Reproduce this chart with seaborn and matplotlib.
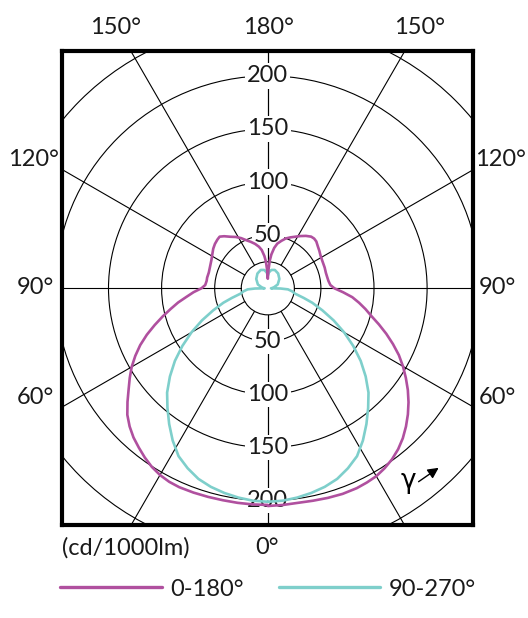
import matplotlib
matplotlib.use("Agg")
import matplotlib.pyplot as plt
from matplotlib.patches import Circle
import numpy as np
import pandas as pd
import seaborn as sns

# ---------------- data (cd/1000lm) ----------------
purple_gamma = [0, 4, 8, 12, 16, 20, 24, 27, 30, 33, 36, 39, 42, 45, 48, 51, 54, 57, 60, 63, 66,
                69, 72, 75, 78, 81, 84, 87, 90, 93, 97, 100, 105, 110, 117, 122, 126, 130, 134,
                137, 140, 144, 148, 152, 156, 160, 164, 168, 171, 174, 176, 178, 180]
purple_left = [204, 204, 204, 204, 204.3, 204.7, 205, 204.5, 203, 200.5, 197, 193, 189, 184, 178,
               170, 162, 155, 148, 140, 131.5, 122, 112, 102.5, 93.5, 85.5, 77, 70, 62.5, 59, 58,
               58, 57.5, 58, 59.5, 61.5, 63.5, 65, 66, 66.5, 64, 60, 57, 53.5, 49.5, 46.5, 43.5,
               40, 36.5, 30.5, 25, 17, 9]
purple_right = [205, 204.5, 204, 204.5, 205.3, 206, 206, 205.3, 204.3, 202, 199, 195, 190, 184,
                177.5, 170.5, 163, 155, 147, 138.5, 129, 119.5, 110, 101, 94, 87, 80, 71, 62.7,
                59, 57.5, 57, 56.6, 57, 57.5, 58.5, 60, 61.5, 63.5, 64, 63.5, 61, 58, 55, 52.5,
                50, 46.5, 43, 38.5, 32, 26, 17, 9]

cyan_gamma = [0, 4, 8, 12, 16, 20, 24, 28, 32, 36, 40, 44, 48, 52, 56, 60, 64, 68, 72, 75, 79,
              83, 87, 89, 90, 93, 100, 111, 129, 145, 159, 169, 176, 180]
cyan_left = [201, 200.5, 199, 197, 194.5, 191, 185.5, 179, 169, 158, 147, 136.5, 124, 111, 97,
             83, 69, 55.5, 44, 35, 26, 23, 19, 12, 3, 4, 6, 10, 14, 17, 18.5, 17.6, 15, 12]
cyan_right = [201, 200.5, 199, 197, 194.5, 191, 185.5, 179, 169, 158, 147, 136.5, 124, 111, 97,
              83, 69, 55.5, 44, 35, 26, 23, 19, 12, 3, 4, 6, 10, 14, 17, 18.5, 17.6, 15, 12]

series_names = ["0-180°", "90-270°"]
ring_values = [25, 50, 100, 150, 200, 250]
value_labels = [50, 100, 150, 200]
spoke_angles = [0, 30, 60, 90, 120, 150, 180]
unit_label = "(cd/1000lm)"

PURPLE = "#B0509F"
CYAN = "#7ECFCB"
TXT = "#1a1a1a"


def closed_loop(gam, left, right, name):
    g = np.radians(np.asarray(gam, dtype=float))
    l = np.asarray(left, dtype=float)
    r = np.asarray(right, dtype=float)
    xl, yl = -l * np.sin(g), -l * np.cos(g)
    xr, yr = (r * np.sin(g))[::-1], (-r * np.cos(g))[::-1]
    x = np.concatenate([xl, xr])
    y = np.concatenate([yl, yr])
    return pd.DataFrame({"x": x, "y": y, "plane": name, "order": np.arange(len(x))})


df_p = closed_loop(purple_gamma, purple_left, purple_right, series_names[0])
df_c = closed_loop(cyan_gamma, cyan_left, cyan_right, series_names[1])

sns.set_theme(style="white")
plt.rcParams["font.family"] = ["Lato", "DejaVu Sans"]
plt.rcParams["font.weight"] = "normal"
plt.rcParams["text.color"] = TXT

W, H = 528, 618
fig = plt.figure(figsize=(W / 100, H / 100), dpi=100)
L, R, T, B = 62, 473, 51, 525
ax = fig.add_axes([L / W, 1 - B / H, (R - L) / W, (B - T) / H])
scale = 1.062
cx, cy = 267.8, 288.3
ax.set_xlim((L - cx) / scale, (R - cx) / scale)
ax.set_ylim(-(B - cy) / scale, (cy - T) / scale)

# grid rings
for rv in ring_values:
    ax.add_patch(Circle((0, 0), rv, fill=False, ec="black", lw=0.8, zorder=1))
# spokes
for a in spoke_angles:
    t = np.radians(a)
    for s in (-1, 1):
        ax.plot([s * 25 * np.sin(t), s * 320 * np.sin(t)],
                [-25 * np.cos(t), -320 * np.cos(t)], color="black", lw=0.8, zorder=1)

# value labels on vertical axis
for v in value_labels:
    for s in (1, -1):
        ax.text(0, s * v, str(v), ha="center", va="center", fontsize=17, color=TXT,
                zorder=2, bbox=dict(fc="white", ec="none", pad=1.5))

# curves
sns.lineplot(data=df_c, x="x", y="y", sort=False, estimator=None, color=CYAN, lw=1.9,
             label=series_names[1], ax=ax, zorder=4)
sns.lineplot(data=df_p, x="x", y="y", sort=False, estimator=None, color=PURPLE, lw=1.9,
             label=series_names[0], ax=ax, zorder=5)

ax.set_xticks([])
ax.set_yticks([])
ax.set_xlabel("")
ax.set_ylabel("")
for sp in ax.spines.values():
    sp.set_visible(True)
    sp.set_color("black")
    sp.set_linewidth(3)

# gamma annotation
ax.text(0.842, 0.092, "γ", transform=ax.transAxes, ha="center", va="center", fontsize=19,
        color="black", family=["DejaVu Sans"])
ax.annotate("", xy=(0.922, 0.124), xytext=(0.862, 0.088), xycoords="axes fraction",
            arrowprops=dict(arrowstyle="-|>", color="black", lw=1.0, mutation_scale=16))


# outer angle labels (pixel positions)
def ftext(x, y, s, ha="center"):
    fig.text(x / W, 1 - y / H, s, ha=ha, va="center", fontsize=17, color=TXT)


ftext(116, 28, "150°")
ftext(268, 28, "180°")
ftext(420, 28, "150°")
ftext(33, 160, "120°")
ftext(500, 160, "120°")
ftext(35, 288, "90°")
ftext(497, 288, "90°")
ftext(35, 398, "60°")
ftext(497, 398, "60°")
ftext(267, 547, "0°")
ftext(62, 548, unit_label, ha="left")

# legend
h, lab = ax.get_legend_handles_labels()
order = [lab.index(series_names[0]), lab.index(series_names[1])]
leg = ax.legend([h[i] for i in order], [lab[i] for i in order], loc="center left",
                bbox_to_anchor=(60 / W, 1 - 589 / H), bbox_transform=fig.transFigure,
                ncol=2, frameon=False, handlelength=4.3, handletextpad=0.35,
                columnspacing=1.5, borderpad=0, borderaxespad=0, fontsize=17)
for line in leg.get_lines():
    line.set_linewidth(2.4)
for t in leg.get_texts():
    t.set_color(TXT)

fig.savefig("out.png", dpi=100)
